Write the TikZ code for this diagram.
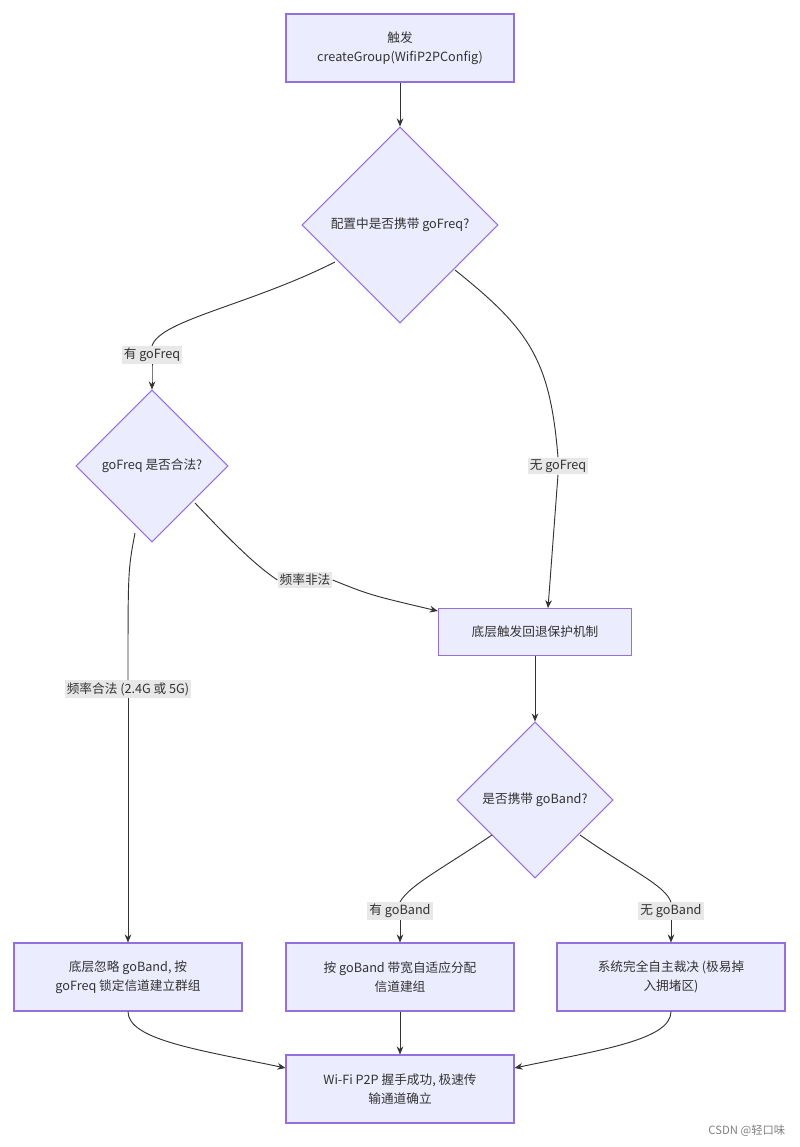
\documentclass[tikz,border=0pt]{standalone}
\usepackage{fontspec}
\setmainfont{Noto Sans CJK SC}
\usetikzlibrary{shapes.geometric,arrows.meta}
\definecolor{nfill}{HTML}{ECECFF}
\definecolor{nline}{HTML}{9370DB}
\definecolor{txt}{HTML}{333333}
\begin{document}
\begin{tikzpicture}[x=0.75pt,y=-0.75pt,
  box/.style={draw=nline,fill=nfill,line width=0.8pt,text=txt,align=center,font=\fontsize{9.5}{14}\selectfont,minimum width=171pt,minimum height=51pt,inner sep=2pt},
  dia/.style={diamond,draw=nline,fill=nfill,line width=0.8pt,text=txt,align=center,font=\fontsize{9.5}{14}\selectfont,inner sep=0pt},
  lab/.style={fill=gray!18,text=txt,font=\fontsize{9.5}{12}\selectfont,inner sep=1.5pt},
  arr/.style={draw=txt,line width=0.7pt,-{Stealth[length=6pt,width=5pt]}},
  ln/.style={draw=txt,line width=0.7pt}]
\useasboundingbox (0,0) rectangle (800,1147);
\node[box] (top) at (400,48) {触发\\createGroup(WifiP2PConfig)};
\node[dia,minimum width=147pt,minimum height=147pt] (d1) at (400,225) {配置中是否携带 goFreq?};
\node[dia,minimum width=114pt,minimum height=114pt] (d2) at (152,466) {goFreq 是否合法?};
\node[box,minimum width=145pt,minimum height=35pt] (fb) at (535,632) {底层触发回退保护机制};
\node[dia,minimum width=117pt,minimum height=117pt] (d3) at (535,800) {是否携带 goBand?};
\node[box] (bl) at (128,977) {底层忽略 goBand, 按\\goFreq 锁定信道建立群组};
\node[box] (bm) at (400,977) {按 goBand 带宽自适应分配\\信道建组};
\node[box] (br) at (671,977) {系统完全自主裁决 (极易掉\\入拥堵区)};
\node[box] (fin) at (400,1089) {Wi-Fi P2P 握手成功, 极速传\\输通道确立};
\node[lab] (l1) at (152,355) {有 goFreq};
\node[lab] (l2) at (558,466) {无 goFreq};
\node[lab] (l3) at (305,580) {频率非法};
\node[lab] (l4) at (128,689) {频率合法 (2.4G 或 5G)};
\node[lab] (l5) at (400,911) {有 goBand};
\node[lab] (l6) at (671,911) {无 goBand};
\node[text=gray,font=\fontsize{8.5}{10}\selectfont,anchor=east] (wm) at (790,1131) {CSDN @轻口味};
\draw[arr] (top) -- (d1);
\draw[ln] (335,262) .. controls (250,305) and (160,320) .. (l1.north);
\draw[arr] (l1.south) .. controls (152,372) .. (d2.north);
\draw[ln] (455,270) .. controls (530,330) and (550,360) .. (l2.north);
\draw[arr] (l2.south) -- (fb.north -| 548,0);
\draw[ln] (195,503) .. controls (230,540) and (255,565) .. (l3.west);
\draw[arr] (l3.east) .. controls (370,595) .. (fb.west |- 0,611);
\draw[ln] (135,533) .. controls (128,570) .. (l4.north);
\draw[arr] (l4.south) -- (bl.north);
\draw[arr] (fb) -- (d3);
\draw[ln] (492,835) .. controls (440,870) and (410,885) .. (l5.north);
\draw[arr] (l5.south) -- (bm.north);
\draw[ln] (580,835) .. controls (630,870) and (665,885) .. (l6.north);
\draw[arr] (l6.south) -- (br.north);
\draw[arr] (bl.south) .. controls (128,1040) and (200,1050) .. (fin.west |- 0,1068);
\draw[arr] (bm) -- (fin);
\draw[arr] (br.south) .. controls (671,1040) and (600,1050) .. (fin.east |- 0,1068);
\end{tikzpicture}
\end{document}
